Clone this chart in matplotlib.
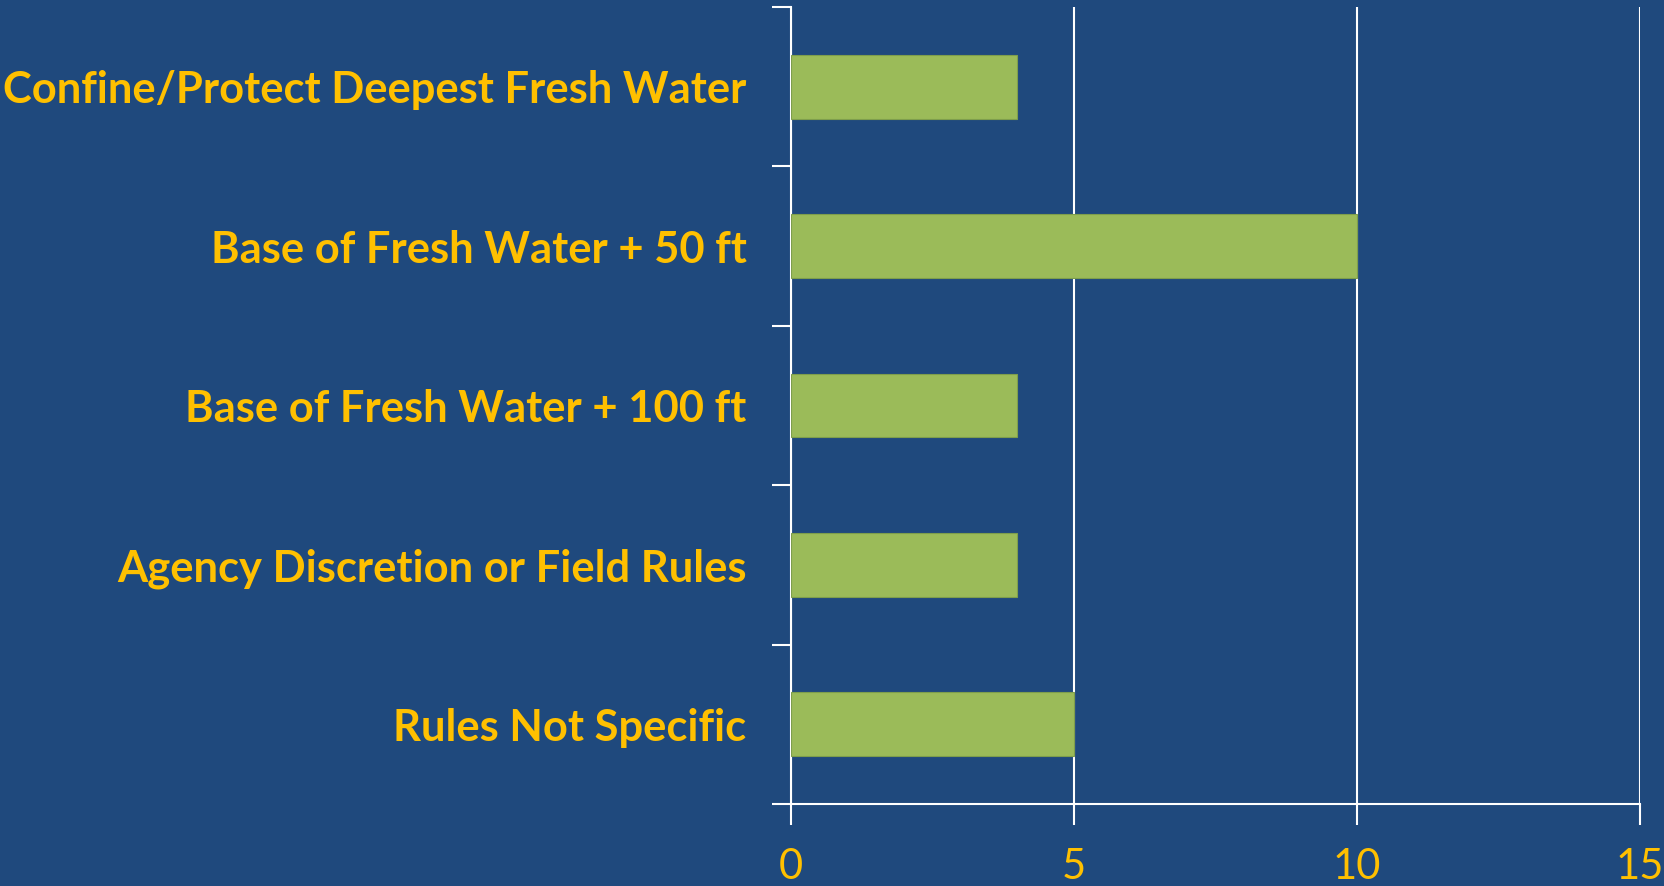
"""
Horizontal bar chart: surface casing depth requirement categories.
"""

import matplotlib
matplotlib.use("Agg")
import matplotlib.pyplot as plt
import numpy as np

# -----------------------------------------------------------------------------
# Data
# -----------------------------------------------------------------------------

categories = [
    "Confine/Protect Deepest Fresh Water",
    "Base of Fresh Water + 50 ft",
    "Base of Fresh Water + 100 ft",
    "Agency Discretion or Field Rules",
    "Rules Not Specific",
]
counts = [4, 10, 4, 4, 5]
x_ticks = [0, 5, 10, 15]

BG = "#1F497D"
BAR = "#9BBB59"
TXT = "#FFC000"


def main():
    fig = plt.figure(figsize=(16.65, 8.86), dpi=100, facecolor=BG)
    ax = fig.add_axes([0.4751, 0.0926, 0.985 - 0.4751, 0.9921 - 0.0926])
    ax.set_facecolor(BG)

    y = np.arange(len(categories))
    ax.barh(y, counts, height=0.4, color=BAR, edgecolor="#7E9E4C",
            linewidth=0.8, zorder=3)

    ax.set_ylim(len(categories) - 0.5, -0.5)
    ax.set_xlim(x_ticks[0], x_ticks[-1])

    # y axis: category labels at centres, tick marks at category boundaries
    ax.set_yticks(y)
    ax.set_yticklabels(categories, fontfamily="Lato", fontweight="bold",
                       fontsize=31.3, color=TXT)
    ax.tick_params(axis="y", which="major", length=0, pad=32)
    ax.set_yticks(np.arange(-0.5, len(categories)), minor=True)
    ax.tick_params(axis="y", which="minor", length=14, width=1.5,
                   color="white", direction="out")

    # x axis
    ax.set_xticks(x_ticks)
    ax.set_xticklabels([str(t) for t in x_ticks], fontfamily="Lato",
                       fontweight="normal", fontsize=30, color=TXT)
    ax.tick_params(axis="x", length=15, width=1.5, color="white",
                   direction="out", pad=17)
    ax.xaxis.grid(True, color="white", linewidth=1.5, zorder=1)
    ax.set_axisbelow(True)

    for side in ["top", "right"]:
        ax.spines[side].set_visible(False)
    for side in ["left", "bottom"]:
        ax.spines[side].set_color("white")
        ax.spines[side].set_linewidth(1.5)

    fig.savefig("out.png", dpi=100, facecolor=BG)
    plt.close(fig)


if __name__ == "__main__":
    main()
